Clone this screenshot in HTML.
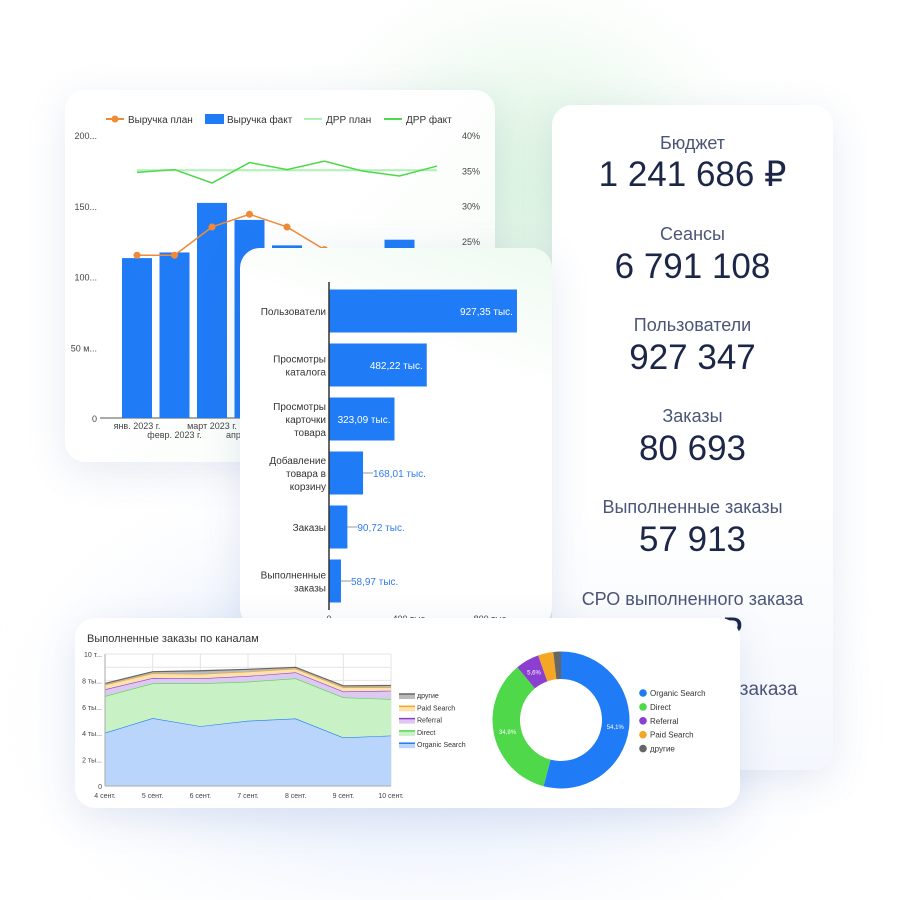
<!DOCTYPE html>
<html><head><meta charset="utf-8">
<style>
*{margin:0;padding:0;box-sizing:border-box}
body{width:900px;height:900px;overflow:hidden;background:#fff;font-family:"Liberation Sans",sans-serif;position:relative}
.glow{position:absolute;border-radius:50%;filter:blur(60px)}
.card{position:absolute;background:#fff;border-radius:20px;box-shadow:0 10px 40px rgba(60,90,160,0.13)}
svg{position:absolute;left:0;top:0;overflow:visible}
svg text{font-family:"Liberation Sans",sans-serif}
.kl{position:absolute;left:0;width:281px;text-align:center;color:#4b5576;font-size:18px}
.kv{position:absolute;left:0;width:281px;text-align:center;color:#1c2748;font-size:35px}
</style></head><body>
<div class="glow" style="left:380px;top:60px;width:300px;height:260px;background:#dff5e3"></div>
<div class="glow" style="left:100px;top:560px;width:650px;height:300px;background:#e6eefc"></div>

<div class="card" style="left:65px;top:90px;width:430px;height:372px;background:linear-gradient(135deg,#fff 45%,#f2fbf3 100%)">
<svg id="c1" width="430" height="372"></svg>
</div>

<div class="card" style="left:552px;top:105px;width:281px;height:665px;background:linear-gradient(180deg,#fff 60%,#f4f7fd 100%)">
<div class="kl" style="top:28px">Бюджет</div>
<div class="kv" style="top:50px">1 241 686 ₽</div>
<div class="kl" style="top:119px">Сеансы</div>
<div class="kv" style="top:142px">6 791 108</div>
<div class="kl" style="top:210px">Пользователи</div>
<div class="kv" style="top:233px">927 347</div>
<div class="kl" style="top:301px">Заказы</div>
<div class="kv" style="top:324px">80 693</div>
<div class="kl" style="top:392px">Выполненные заказы</div>
<div class="kv" style="top:415px">57 913</div>
<div class="kl" style="top:484px">СРО выполненного заказа</div>
<div class="kv" style="top:507px">21,4 ₽</div>
<div class="kl" style="top:574px;font-size:19px;left:-6px">Стоимость нового заказа</div>
</div>

<div class="card" style="left:240px;top:248px;width:312px;height:380px;background:linear-gradient(200deg,#eefaf0 0%,#fff 30%)">
<svg id="c2" width="312" height="380"></svg>
</div>

<div class="card" style="left:75px;top:618px;width:665px;height:190px">
<svg id="c3" width="665" height="190"></svg>
</div>

<script>
const NS='http://www.w3.org/2000/svg';
function mk(p,tag,at,txt){const e=document.createElementNS(NS,tag);for(const k in at)e.setAttribute(k,at[k]);if(txt!==undefined)e.textContent=txt;p.appendChild(e);return e;}

const months=['янв. 2023 г.','февр. 2023 г.','март 2023 г.','апр. 2023 г.','май 2023 г.','июнь 2023 г.','июль 2023 г.','авг. 2023 г.','сент. 2023 г.'];
const revFact=[113,117,152,140,122,110,104,126,118];
const revPlan=[115,115,135,144,135,119,108,112,116];
const drrPlan=[35,35,35,35,35,35,35,35,35];
const drrFact=[34.7,35.1,33.2,36.1,35.1,36.3,34.9,34.2,35.6];
const leftTicks=['0','50 м...','100...','150...','200...'];
const rightTicks=['25%','30%','35%','40%'];

const c1=document.getElementById('c1');
const x1=i=>72+37.5*i, yL=v=>328-v*1.415, yR=p=>45+(40-p)*7.06;
let g=mk(c1,'g',{});
mk(g,'line',{x1:41,y1:29,x2:59,y2:29,stroke:'#f08a37','stroke-width':2});
mk(g,'circle',{cx:50,cy:29,r:3.5,fill:'#f08a37'});
mk(g,'text',{x:63,y:33,'font-size':10,fill:'#333'},'Выручка план');
mk(g,'rect',{x:140,y:24,width:19,height:10,fill:'#1f7bf6'});
mk(g,'text',{x:162,y:33,'font-size':10,fill:'#333'},'Выручка факт');
mk(g,'line',{x1:239,y1:29,x2:257,y2:29,stroke:'#aef0b6','stroke-width':2});
mk(g,'text',{x:261,y:33,'font-size':10,fill:'#333'},'ДРР план');
mk(g,'line',{x1:319,y1:29,x2:337,y2:29,stroke:'#4fd84a','stroke-width':2});
mk(g,'text',{x:341,y:33,'font-size':10,fill:'#333'},'ДРР факт');
leftTicks.forEach((t,i)=>{const e=mk(c1,'text',{x:32,y:yL(i*50)+4,'font-size':9,fill:'#444','text-anchor':'end'},t);
});
rightTicks.forEach((t,i)=>{const e=mk(c1,'text',{x:397,y:yR(25+5*i)+4,'font-size':9,fill:'#444'},t);
});
mk(c1,'line',{x1:35,y1:328,x2:388,y2:328,stroke:'#555','stroke-width':1});
revFact.forEach((v,i)=>{const r=mk(c1,'rect',{x:x1(i)-15,y:yL(v),width:30,height:328-yL(v),fill:'#1f7bf6'});
});
months.forEach((m,i)=>{const e=mk(c1,'text',{x:x1(i),y:i%2?348:339,'font-size':9,fill:'#444','text-anchor':'middle'},m);
});
mk(c1,'polyline',{points:drrPlan.map((v,i)=>x1(i)+','+yR(v)).join(' '),fill:'none',stroke:'#aef0b6','stroke-width':2});
const df=mk(c1,'polyline',{points:drrFact.map((v,i)=>x1(i)+','+yR(v)).join(' '),fill:'none',stroke:'#4fd84a','stroke-width':1.5});

const rp=mk(c1,'polyline',{points:revPlan.map((v,i)=>x1(i)+','+yL(v)).join(' '),fill:'none',stroke:'#f08a37','stroke-width':1.5});

revPlan.forEach((v,i)=>{const c=mk(c1,'circle',{cx:x1(i),cy:yL(v),r:3.5,fill:'#f08a37'});
});

const stages=[['Пользователи'],['Просмотры','каталога'],['Просмотры','карточки','товара'],['Добавление','товара в','корзину'],['Заказы'],['Выполненные','заказы']];
const stageVals=[927.35,482.22,323.09,168.01,90.72,58.97];
const stageLabels=['927,35 тыс.','482,22 тыс.','323,09 тыс.','168,01 тыс.','90,72 тыс.','58,97 тыс.'];
const fTicks=[0,400,800];
const fTickLabels=['0','400 тыс.','800 тыс.'];
const c2=document.getElementById('c2');
const xf=v=>89+v*0.2027, yf=i=>63+54*i;
stageVals.forEach((v,i)=>{
 const w=xf(v)-89;
 const b=mk(c2,'rect',{x:89,y:yf(i)-21.5,width:w,height:43,fill:'#1f7bf6'});
 
 let t;
 if(w>60){t=mk(c2,'text',{x:xf(v)-4,y:yf(i)+4,'font-size':10,fill:'#fff','text-anchor':'end'},stageLabels[i]);}
 else{mk(c2,'line',{x1:xf(v),y1:yf(i),x2:xf(v)+10,y2:yf(i),stroke:'#999'});
 t=mk(c2,'text',{x:xf(v)+10,y:yf(i)+4,'font-size':10,fill:'#2f7cf0'},stageLabels[i]);}
 
 const n=stages[i].length;
 stages[i].forEach((s,k)=>{const e=mk(c2,'text',{x:86,y:yf(i)+4+(k-(n-1)/2)*13,'font-size':10,fill:'#333','text-anchor':'end'},s);
 });
});
mk(c2,'line',{x1:89,y1:34,x2:89,y2:362,stroke:'#333','stroke-width':1.5});
fTicks.forEach((v,i)=>{const e=mk(c2,'text',{x:xf(v),y:374,'font-size':9,fill:'#444','text-anchor':'middle'},fTickLabels[i]);
});

const days=['4 сент.','5 сент.','6 сент.','7 сент.','8 сент.','9 сент.','10 сент.'];
const organic=[4.03,5.14,4.53,4.94,5.11,3.67,3.82];
const direct=[2.78,2.63,3.24,2.96,3.04,3.04,2.76];
const referral=[0.51,0.41,0.38,0.43,0.46,0.45,0.64];
const paid=[0.35,0.35,0.33,0.33,0.28,0.31,0.25];
const other=[0.10,0.13,0.25,0.18,0.10,0.12,0.15];
const areaTicks=['0','2 ты...','4 ты...','6 ты...','8 ты...','10 т...'];
const c3=document.getElementById('c3');
mk(c3,'text',{x:12,y:24,'font-size':11,fill:'#333'},'Выполненные заказы по каналам');
const xa=i=>30+i*47.67, ya=v=>168-v*13.2;
for(let k=0;k<=10;k++)mk(c3,'line',{x1:30,x2:316,y1:ya(k),y2:ya(k),stroke:'#e4e4e4'});
days.forEach((d,i)=>{mk(c3,'line',{x1:xa(i),x2:xa(i),y1:36,y2:168,stroke:'#e4e4e4'});
const e=mk(c3,'text',{x:xa(i),y:180,'font-size':7,fill:'#444','text-anchor':'middle'},d);
});
areaTicks.forEach((t,i)=>{const e=mk(c3,'text',{x:27,y:ya(i*2)+3,'font-size':7,fill:'#444','text-anchor':'end'},t);
});
const series=[[organic,'#1f7bf6','#b9d5fb','organic-search-area'],[direct,'#4fd84a','#c8f1c6','direct-area'],[referral,'#8a3fd1','#dcc8f0','referral-area'],[paid,'#f5a623','#fde2b0','paid-search-area'],[other,'#666','#bbb','other-area']];
let base=days.map(()=>0);
series.forEach(([vals,line,fill,name])=>{
 const top=base.map((b,i)=>b+vals[i]);
 const pts=top.map((v,i)=>xa(i)+','+ya(v)).join(' ');
 const back=base.map((v,i)=>xa(i)+','+ya(v)).reverse().join(' ');
 const p=mk(c3,'polygon',{points:pts+' '+back,fill:fill});
 
 mk(c3,'polyline',{points:pts,fill:'none',stroke:line,'stroke-width':1.2});
 base=top;
});
mk(c3,'line',{x1:30,x2:30,y1:36,y2:168,stroke:'#aaa'});
mk(c3,'line',{x1:30,x2:316,y1:168,y2:168,stroke:'#aaa'});
const aLeg=[['другие','#666','#bbb'],['Paid Search','#f5a623','#fde2b0'],['Referral','#8a3fd1','#dcc8f0'],['Direct','#4fd84a','#c8f1c6'],['Organic Search','#1f7bf6','#b9d5fb']];
aLeg.forEach(([n,c,f],i)=>{const y=78+12.3*i;
 mk(c3,'rect',{x:324,y:y-2,width:16,height:5,fill:f});mk(c3,'line',{x1:324,x2:340,y1:y-2,y2:y-2,stroke:c,'stroke-width':1.5});
 const e=mk(c3,'text',{x:342,y:y+2,'font-size':7,fill:'#333'},n);
 });

const pieNames=['Organic Search','Direct','Referral','Paid Search','другие'];
const pieVals=[54.1,34.9,5.6,3.6,1.8];
const pieLabels=['54,1%','34,9%','5,6%','',''];
const pieColors=['#1f7bf6','#4fd84a','#8a3fd1','#f5a623','#666'];
const cx=486,cy=102,R=68.5,r0=41;
const tot=pieVals.reduce((a,b)=>a+b,0);
let ang=0;
pieVals.forEach((v,i)=>{
 const a0=ang,a1=ang+v/tot*2*Math.PI;ang=a1;
 const P=(a,rr)=>[cx+rr*Math.sin(a),cy-rr*Math.cos(a)];
 const lg=a1-a0>Math.PI?1:0;
 const [x0,y0]=P(a0,R),[xx1,yy1]=P(a1,R),[x2,y2]=P(a1,r0),[x3,y3]=P(a0,r0);
 const s=mk(c3,'path',{d:`M${x0},${y0}A${R},${R} 0 ${lg} 1 ${xx1},${yy1}L${x2},${y2}A${r0},${r0} 0 ${lg} 0 ${x3},${y3}Z`,fill:pieColors[i]});
 
 if(pieLabels[i]){const [lx,ly]=P((a0+a1)/2,(R+r0)/2);
  mk(c3,'text',{x:lx,y:ly+2,'font-size':6,fill:'#fff','text-anchor':'middle'},pieLabels[i]);}
});
pieNames.forEach((n,i)=>{const y=75+13.9*i;
 mk(c3,'circle',{cx:568,cy:y,r:3.8,fill:pieColors[i]});
 const e=mk(c3,'text',{x:575,y:y+3,'font-size':8,fill:'#333'},n);
 });
</script>
</body></html>
